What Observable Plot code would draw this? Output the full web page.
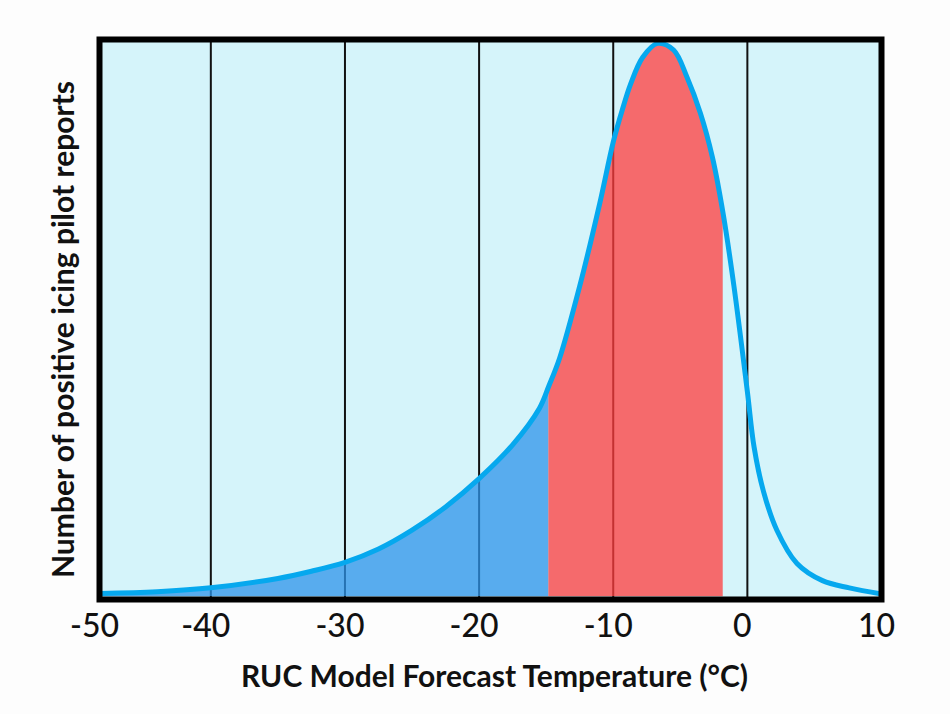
<!DOCTYPE html>
<html>
<head>
<meta charset="utf-8">
<script src="https://cdn.jsdelivr.net/npm/d3@7"></script>
<script src="https://cdn.jsdelivr.net/npm/@observablehq/plot@0.6"></script>
<style>
  html, body { margin: 0; padding: 0; background: #fdfdfd; }
  #chart { width: 950px; height: 714px; }
</style>
</head>
<body>
<div id="chart"></div>
<script>
// Temperature (°C) and relative number of positive icing PIREPs
const temps  = [-48.3, -44, -40, -35, -32.5, -30, -27.5, -25, -22.5, -20, -17.5, -15.5, -14.8, -14, -12.5, -11, -10, -9.3, -8.7, -7.8, -6.7, -5.5, -4.5, -3.5, -2.6, -1.8, -1, 0, 0.5, 1.2, 2.2, 3.7, 5.6, 7.6, 10];
const counts = [0.6, 0.9, 1.6, 3.3, 4.6, 6.2, 8.6, 12.0, 16.2, 21.3, 27.4, 34.0, 38, 43, 56, 71, 82, 88, 92.5, 97.3, 99.8, 98.6, 93.7, 87.2, 79.2, 69, 56, 37, 27, 19, 12, 6, 2.9, 1.6, 0.5];

// shaded band boundaries
const redStart = -14.8;
const redEnd = -1.8;

const xTicks = [-50, -40, -30, -20, -10, 0, 10];
const gridTicks = [-40, -30, -20, -10, 0];

const xLabel = "RUC Model Forecast Temperature (°C)";
const yLabel = "Number of positive icing pilot reports";

const data = temps.map((t, i) => ({t, v: counts[i]}));
const blue = data.filter(d => d.t <= redStart);
const red = data.filter(d => d.t >= redStart && d.t <= redEnd);

const titleFont = "Lato, 'Open Sans', sans-serif";
const tickFont = "Lato, sans-serif";
const curve = "catmull-rom";

const chart = Plot.plot({
  width: 950,
  height: 714,
  marginTop: 39,
  marginRight: 69,
  marginBottom: 115,
  marginLeft: 99,
  style: {background: "transparent", overflow: "visible"},
  x: {domain: [-48.3, 10], clamp: true},
  y: {domain: [-0.5, 100.5], axis: null},
  marks: [
    Plot.frame({fill: "#d5f4fa", stroke: null}),
    Plot.ruleX(gridTicks, {stroke: "#111", strokeWidth: 2}),
    Plot.areaY(blue, {x: "t", y: "v", curve, fill: "#2e94e9", fillOpacity: 0.75}),
    Plot.areaY(red, {x: "t", y: "v", curve, fill: "#ff3c3c", fillOpacity: 0.75}),
    Plot.line(data, {x: "t", y: "v", curve, stroke: "#06a8ee", strokeWidth: 5}),
    Plot.frame({stroke: "#000", strokeWidth: 6}),
    Plot.axisX(xTicks, {
      tickSize: 0, tickPadding: 15, fontSize: 32, dx: -5,
      tickFormat: d => `${d}`, label: null,
      fontFamily: tickFont, fontWeight: 500, fill: "#111"
    }),
    Plot.text([xLabel], {
      frameAnchor: "bottom", dy: 87, dx: 4,
      fontSize: 30, fontWeight: "bold", fontFamily: titleFont, fill: "#111"
    }),
    Plot.text([yLabel], {
      frameAnchor: "left", textAnchor: "middle", rotate: -90, dx: -35, dy: 10,
      fontSize: 30, fontWeight: "bold", fontFamily: titleFont, fill: "#111"
    })
  ]
});

document.getElementById("chart").append(chart);
</script>
</body>
</html>
